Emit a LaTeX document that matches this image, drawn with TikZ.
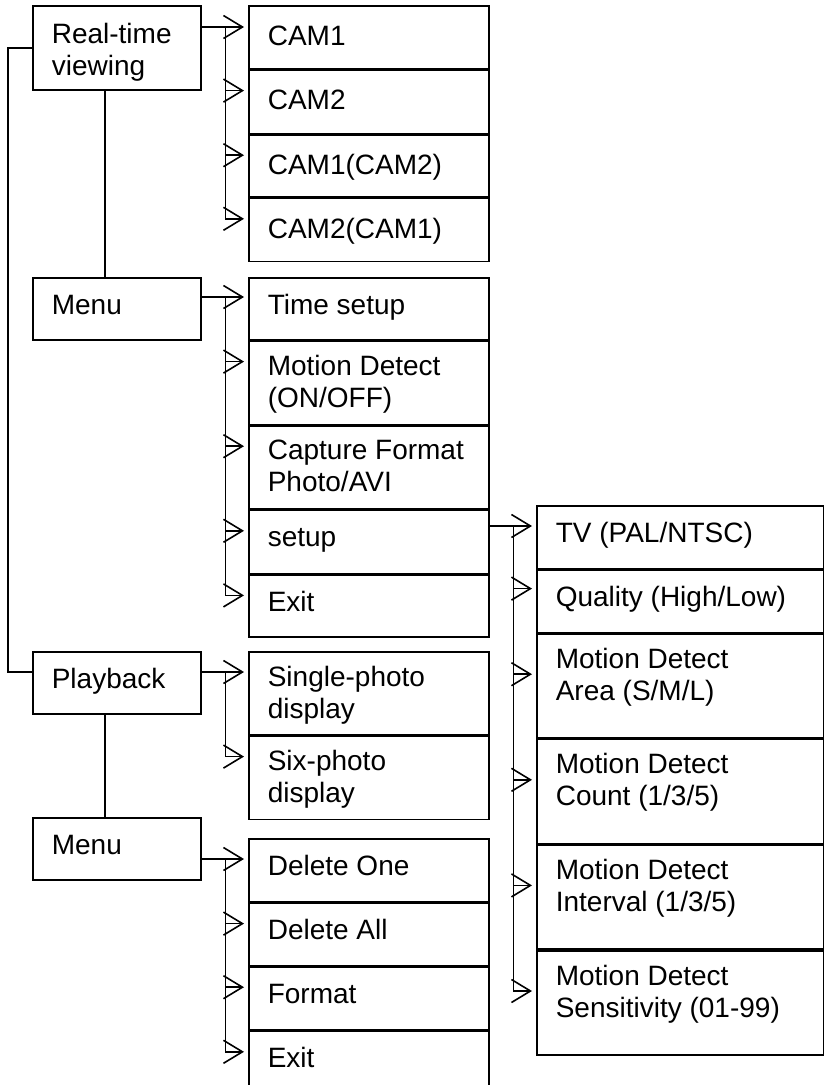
\documentclass[tikz,border=0pt]{standalone}
\usepackage{fontspec}
\setmainfont{Liberation Sans}
\usetikzlibrary{positioning,arrows.meta}

\tikzset{
  mtext/.style={anchor=north west, inner sep=0pt, align=left, xshift=19, yshift=-13.9,
    font=\fontsize{28}{32}\selectfont, execute at begin node=\strut},
  mbox/.style={draw, anchor=north west, inner sep=0pt, minimum width=240,
    label={[mtext]north west:#1}},
  arr/.style={-{Straight Barb[length=19pt,width=23pt]}, shorten >=4pt},
}

\begin{document}
\begin{tikzpicture}[x=1pt, y=-1pt, line width=1.6pt]
  \useasboundingbox (0,0) rectangle (824,1085);
  \clip (0,0) rectangle (824,1085);

  % real-time viewing
  \begin{scope}[every label/.append style={yshift=-3.2}]
    \node[mbox={Real-time\\viewing}, minimum width=168, minimum height=84] (rt) at (32,5) {};
    \node[mbox=CAM1, minimum height=63] (cam1) at (248,5) {};
    \node[mbox=CAM2, minimum height=63, below=0pt of cam1] (cam2) {};
    \node[mbox=CAM1(CAM2), minimum height=62, below=0pt of cam2] (cam3) {};
    \node[mbox=CAM2(CAM1), minimum height=63, below=0pt of cam3] (cam4) {};
  \end{scope}

  % menu
  \node[mbox=Menu, minimum width=168, minimum height=62] (menu1) at (32,277) {};
  \node[mbox={Time setup}, minimum height=62] (ts) at (248,277) {};
  \node[mbox={Motion Detect\\(ON/OFF)}, minimum height=83, below=0pt of ts] (md) {};
  \node[mbox={Capture Format\\Photo/AVI}, minimum height=83, below=0pt of md] (cf) {};
  \node[mbox=setup, minimum height=63, below=0pt of cf] (su) {};
  \node[mbox=Exit, minimum height=62, below=0pt of su] (ex1) {};

  % setup
  \node[mbox={TV (PAL/NTSC)}, minimum width=287, minimum height=63] (tv) at (536,505) {};
  \node[mbox={Quality (High/Low)}, minimum width=287, minimum height=62, below=0pt of tv] (ql) {};
  \node[mbox={Motion Detect\\Area (S/M/L)}, minimum width=287, minimum height=104, below=0pt of ql] (ma) {};
  \node[mbox={Motion Detect\\Count (1/3/5)}, minimum width=287, minimum height=104, below=0pt of ma] (mc) {};
  \node[mbox={Motion Detect\\Interval (1/3/5)}, minimum width=287, minimum height=104, below=0pt of mc] (mi) {};
  \node[mbox={Motion Detect\\Sensitivity (01-99)}, minimum width=287, minimum height=104, below=0pt of mi] (ms) {};

  % playback
  \node[mbox=Playback, minimum width=168, minimum height=62] (pb) at (32,651) {};
  \node[mbox={Single-photo\\display}, minimum height=83] (sp) at (248,651) {};
  \node[mbox={Six-photo\\display}, minimum height=83, below=0pt of sp] (sx) {};

  \node[mbox=Menu, minimum width=168, minimum height=62] (menu2) at (32,817) {};
  \node[mbox={Delete One}, minimum height=63] (d1) at (248,838) {};
  \node[mbox={Delete All}, minimum height=62, below=0pt of d1] (d2) {};
  \node[mbox=Format, minimum height=63, below=0pt of d2] (fm) {};
  \node[mbox=Exit, minimum height=70, below=0pt of fm] (ex2) {};

  % entry points
  \coordinate (cam1in) at ([yshift=-22]cam1.north west);
  \coordinate (tsin) at ([yshift=-20]ts.north west);
  \coordinate (tvin) at ([yshift=-21]tv.north west);
  \coordinate (spin) at ([yshift=-21]sp.north west);
  \coordinate (d1in) at ([yshift=-21]d1.north west);

  % connectors
  \draw (rt.west) -- ++(-24,0) |- (pb.west |- spin);
  \draw ([xshift=73]rt.south west) -- ([xshift=73]menu1.north west);
  \draw ([xshift=73]pb.south west) -- ([xshift=73]menu2.north west);

  \path (rt.east |- cam1in) ++(24,0) coordinate (bus1);
  \draw[arr] (rt.east |- cam1in) -- (cam1in);
  \foreach \t in {cam2,cam3,cam4}
    \draw[arr] (bus1) |- ([yshift=-21]\t.north west);

  \path (menu1.east |- tsin) ++(24,0) coordinate (bus2);
  \draw[arr] (menu1.east |- tsin) -- (tsin);
  \foreach \t in {md,cf,su,ex1}
    \draw[arr] (bus2) |- ([yshift=-21]\t.north west);

  \path (su.east |- tvin) ++(24,0) coordinate (bus3);
  \draw[arr] (su.east |- tvin) -- (tvin);
  \draw[arr] (bus3) |- ([yshift=-19]ql.north west);
  \foreach \t in {ma,mc,mi,ms}
    \draw[arr] (bus3) |- ([yshift=-41]\t.north west);

  \path (pb.east |- spin) ++(24,0) coordinate (bus4);
  \draw[arr] (pb.east |- spin) -- (spin);
  \draw[arr] (bus4) |- ([yshift=-21]sx.north west);

  \path (menu2.east |- d1in) ++(24,0) coordinate (bus5);
  \draw[arr] (menu2.east |- d1in) -- (d1in);
  \foreach \t in {d2,fm,ex2}
    \draw[arr] (bus5) |- ([yshift=-21]\t.north west);
\end{tikzpicture}
\end{document}
